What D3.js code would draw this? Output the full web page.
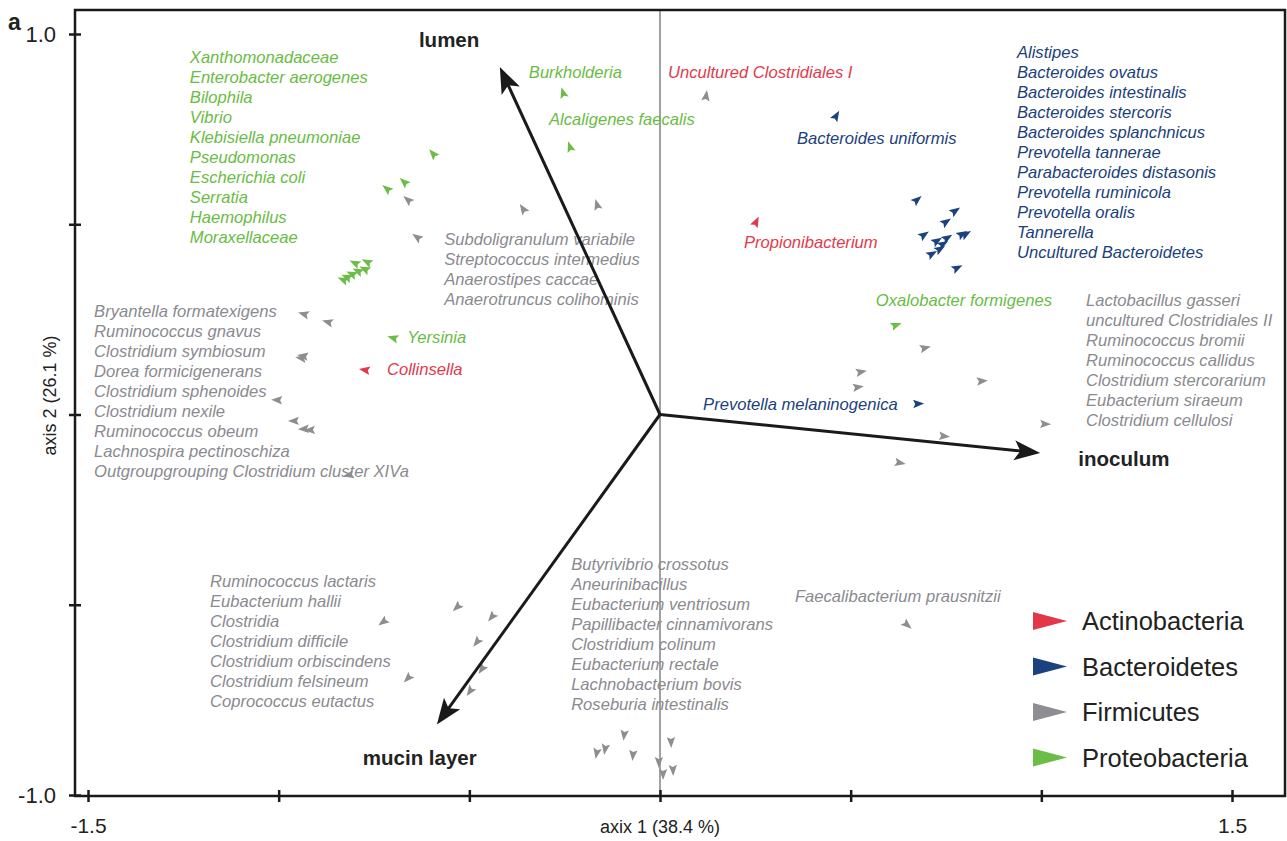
<!DOCTYPE html>
<html>
<head>
<meta charset="utf-8">
<script src="https://cdn.jsdelivr.net/npm/d3@7"></script>
<style>
  html, body { margin: 0; padding: 0; background: #fff; }
  svg { display: block; font-family: "Liberation Sans", Arial, Helvetica, sans-serif; }
</style>
</head>
<body>
<svg id="chart" width="1287" height="841"></svg>
<script>
// ---- Ordination scores (axis 1, axis 2) per phylum ----
const actinobacteria = [
  [-0.774, 0.117],  // Collinsella
  [0.252, 0.506]    // Propionibacterium
];
const bacteroidetes = [
  [0.462, 0.785], [0.674, 0.564], [0.774, 0.535], [0.750, 0.506],
  [0.692, 0.472], [0.726, 0.456], [0.753, 0.464], [0.742, 0.448],
  [0.734, 0.435], [0.713, 0.422], [0.792, 0.474], [0.802, 0.474],
  [0.779, 0.385], [0.677, 0.028]
];
const firmicutes = [
  [0.121, 0.837], [-0.661, 0.564], [-0.637, 0.466], [-0.359, 0.540], [-0.165, 0.551],
  [-0.934, 0.264], [-0.871, 0.243], [-0.941, 0.148], [-0.936, 0.154], [-1.004, 0.038],
  [-0.960, -0.017], [-0.934, -0.038], [-0.918, -0.041], [-0.816, -0.159],
  [0.695, 0.175], [0.527, 0.112], [0.519, 0.072], [0.844, 0.088], [1.010, -0.025],
  [0.745, -0.057], [0.629, -0.127], [0.648, -0.553],
  [-0.532, -0.506], [-0.441, -0.532], [-0.726, -0.545], [-0.480, -0.598],
  [-0.467, -0.669], [-0.661, -0.693], [-0.498, -0.727],
  [-0.094, -0.842], [-0.144, -0.879], [-0.166, -0.890], [-0.071, -0.895],
  [0.029, -0.861], [-0.003, -0.913], [0.008, -0.945], [0.034, -0.934]
];
const proteobacteria = [
  [-0.595, 0.685], [-0.671, 0.611], [-0.716, 0.593], [-0.800, 0.398],
  [-0.768, 0.401], [-0.774, 0.382], [-0.808, 0.369], [-0.821, 0.361],
  [-0.831, 0.354], [-0.792, 0.377],
  [-0.254, 0.845], [-0.236, 0.703], [-0.700, 0.201], [0.619, 0.235]
];

// ---- Environmental vectors ----
const habitats = ["lumen", "inoculum", "mucin layer"];
const habitatScores = [[-0.420, 0.913], [0.997, -0.101], [-0.585, -0.815]];

// ---- Legend ----
const phyla = ["Actinobacteria", "Bacteroidetes", "Firmicutes", "Proteobacteria"];

// ---- Axis ticks ----
const xTicks = [-1.5, -1.0, -0.5, 0, 0.5, 1.0, 1.5];
const yTicks = [-1.0, -0.5, 0, 0.5, 1.0];
const xTickLabels = ["-1.5", "", "", "", "", "", "1.5"];
const yTickLabels = ["-1.0", "", "", "", "1.0"];

// ---- Taxon name lists ----
const proteoNames = ["Xanthomonadaceae", "Enterobacter aerogenes", "Bilophila", "Vibrio",
  "Klebisiella pneumoniae", "Pseudomonas", "Escherichia coli", "Serratia", "Haemophilus", "Moraxellaceae"];
const firmiNamesUpper = ["Subdoligranulum variabile", "Streptococcus intermedius",
  "Anaerostipes caccae", "Anaerotruncus colihominis"];
const firmiNamesLeft = ["Bryantella formatexigens", "Ruminococcus gnavus", "Clostridium symbiosum",
  "Dorea formicigenerans", "Clostridium sphenoides", "Clostridium nexile", "Ruminococcus obeum",
  "Lachnospira pectinoschiza", "Outgroupgrouping Clostridium cluster XIVa"];
const firmiNamesLowerLeft = ["Ruminococcus lactaris", "Eubacterium hallii", "Clostridia",
  "Clostridium difficile", "Clostridium orbiscindens", "Clostridium felsineum", "Coprococcus eutactus"];
const firmiNamesLowerMid = ["Butyrivibrio crossotus", "Aneurinibacillus", "Eubacterium ventriosum",
  "Papillibacter cinnamivorans", "Clostridium colinum", "Eubacterium rectale",
  "Lachnobacterium bovis", "Roseburia intestinalis"];
const bacteroNames = ["Alistipes", "Bacteroides ovatus", "Bacteroides intestinalis",
  "Bacteroides stercoris", "Bacteroides splanchnicus", "Prevotella tannerae",
  "Parabacteroides distasonis", "Prevotella ruminicola", "Prevotella oralis",
  "Tannerella", "Uncultured Bacteroidetes"];
const firmiNamesRight = ["Lactobacillus gasseri", "uncultured Clostridiales II", "Ruminococcus bromii",
  "Ruminococcus callidus", "Clostridium stercorarium", "Eubacterium siraeum", "Clostridium cellulosi"];

// ---- Drawing ----
const colors = {
  Actinobacteria: "#e2384a",
  Bacteroidetes: "#1b427f",
  Firmicutes: "#8d8d92",
  Proteobacteria: "#6bbd45"
};
const textColors = {
  Actinobacteria: "#e23a4b",
  Bacteroidetes: "#1c3f7c",
  Firmicutes: "#8a8a8f",
  Proteobacteria: "#69bc44"
};

const svg = d3.select("#chart");
const x = d3.scaleLinear().domain([-1.5, 1.5]).range([88, 1232]);
const y = d3.scaleLinear().domain([-1, 1]).range([795, 34]);

const frame = { left: 75, right: 1285, top: 10, bottom: 796 };

// zero line on axis 1
svg.append("line")
  .attr("x1", x(0)).attr("x2", x(0))
  .attr("y1", frame.top).attr("y2", frame.bottom)
  .attr("stroke", "#444").attr("stroke-width", 1);

// text label groups (left x, first-line centre y in axis units)
const lineStep = 20;
function nameList(names, ax, ay, color) {
  const g = svg.append("g");
  g.selectAll("text").data(names).join("text")
    .attr("x", x(ax))
    .attr("y", (d, i) => y(ay) + i * lineStep)
    .attr("dominant-baseline", "central")
    .attr("font-size", 16.6)
    .attr("font-style", "italic")
    .attr("fill", color)
    .text(d => d);
}
nameList(proteoNames, -1.233, 0.938, textColors.Proteobacteria);
nameList(firmiNamesUpper, -0.566, 0.459, textColors.Firmicutes);
nameList(firmiNamesLeft, -1.484, 0.270, textColors.Firmicutes);
nameList(firmiNamesLowerLeft, -1.180, -0.440, textColors.Firmicutes);
nameList(firmiNamesLowerMid, -0.233, -0.395, textColors.Firmicutes);
nameList(bacteroNames, 0.936, 0.951, textColors.Bacteroidetes);
nameList(firmiNamesRight, 1.117, 0.299, textColors.Firmicutes);
nameList(["Burkholderia"], -0.344, 0.898, textColors.Proteobacteria);
nameList(["Alcaligenes faecalis"], -0.291, 0.775, textColors.Proteobacteria);
nameList(["Uncultured Clostridiales I"], 0.021, 0.898, textColors.Actinobacteria);
nameList(["Bacteroides uniformis"], 0.359, 0.725, textColors.Bacteroidetes);
nameList(["Propionibacterium"], 0.220, 0.451, textColors.Actinobacteria);
nameList(["Oxalobacter formigenes"], 0.566, 0.299, textColors.Proteobacteria);
nameList(["Yersinia"], -0.663, 0.202, textColors.Proteobacteria);
nameList(["Collinsella"], -0.716, 0.118, textColors.Actinobacteria);
nameList(["Prevotella melaninogenica"], 0.113, 0.026, textColors.Bacteroidetes);
nameList(["Faecalibacterium prausnitzii"], 0.354, -0.479, textColors.Firmicutes);

// taxon markers: small arrowheads pointing away from the origin
const markerPath = "M6,0 L-5,-4.2 L-3,0 L-5,4.2 Z";
function markers(points, color) {
  svg.append("g").selectAll("path").data(points).join("path")
    .attr("d", markerPath)
    .attr("fill", color)
    .attr("transform", d => {
      const ang = Math.atan2(y(d[1]) - y(0), x(d[0]) - x(0)) * 180 / Math.PI;
      return `translate(${x(d[0])},${y(d[1])}) rotate(${ang})`;
    });
}
markers(firmicutes, colors.Firmicutes);
markers(proteobacteria, colors.Proteobacteria);
markers(bacteroidetes, colors.Bacteroidetes);
markers(actinobacteria, colors.Actinobacteria);

// habitat vectors
const headPath = "M0,0 L-26,-10 L-20,0 L-26,10 Z";
const vec = svg.append("g");
habitatScores.forEach((s, i) => {
  const x0 = x(0), y0 = y(0), x1 = x(s[0]), y1 = y(s[1]);
  const ang = Math.atan2(y1 - y0, x1 - x0);
  vec.append("line")
    .attr("x1", x0).attr("y1", y0)
    .attr("x2", x1 - Math.cos(ang) * 18).attr("y2", y1 - Math.sin(ang) * 18)
    .attr("stroke", "#1a1a1a").attr("stroke-width", 3);
  vec.append("path")
    .attr("d", headPath)
    .attr("fill", "#1a1a1a")
    .attr("transform", `translate(${x1},${y1}) rotate(${ang * 180 / Math.PI})`);
});
const habitatLabelPos = [[-0.553, 0.985, "middle"], [1.097, -0.115, "start"], [-0.630, -0.902, "middle"]];
vec.selectAll("text.hab").data(habitats).join("text")
  .attr("class", "hab")
  .attr("x", (d, i) => x(habitatLabelPos[i][0]))
  .attr("y", (d, i) => y(habitatLabelPos[i][1]))
  .attr("text-anchor", (d, i) => habitatLabelPos[i][2])
  .attr("dominant-baseline", "central")
  .attr("font-size", 20.5)
  .attr("font-weight", "bold")
  .attr("fill", "#222")
  .text(d => d);

// frame
svg.append("rect")
  .attr("x", frame.left).attr("y", frame.top)
  .attr("width", frame.right - frame.left).attr("height", frame.bottom - frame.top)
  .attr("fill", "none").attr("stroke", "#1a1a1a").attr("stroke-width", 2.5);

// axes
const xAxis = svg.append("g")
  .attr("transform", `translate(0,${frame.bottom})`)
  .call(d3.axisBottom(x).tickValues(xTicks).tickSize(6).tickPadding(16)
    .tickFormat((d, i) => xTickLabels[i]));
xAxis.select(".domain").remove();
xAxis.selectAll(".tick line").attr("y1", -6).attr("y2", 6)
  .attr("stroke", "#1a1a1a").attr("stroke-width", 2.5);
xAxis.selectAll(".tick text").attr("font-size", 21).attr("fill", "#222")
  .attr("font-family", "Liberation Sans, Arial, sans-serif");

const yAxis = svg.append("g")
  .attr("transform", `translate(${frame.left},0)`)
  .call(d3.axisLeft(y).tickValues(yTicks).tickSize(6).tickPadding(13)
    .tickFormat((d, i) => yTickLabels[i]));
yAxis.select(".domain").remove();
yAxis.selectAll(".tick line").attr("x1", -6).attr("x2", 6)
  .attr("stroke", "#1a1a1a").attr("stroke-width", 2.5);
yAxis.selectAll(".tick text").attr("font-size", 22).attr("fill", "#222")
  .attr("font-family", "Liberation Sans, Arial, sans-serif");

// axis titles
svg.append("text")
  .attr("x", x(0)).attr("y", 827)
  .attr("text-anchor", "middle").attr("dominant-baseline", "central")
  .attr("font-size", 18).attr("fill", "#222")
  .text("axix 1 (38.4 %)");
svg.append("text")
  .attr("transform", `translate(50,${y(0.05)}) rotate(-90)`)
  .attr("text-anchor", "middle").attr("dominant-baseline", "central")
  .attr("font-size", 18).attr("fill", "#222")
  .text("axis 2 (26.1 %)");

// panel letter
svg.append("text")
  .attr("x", 8).attr("y", 22)
  .attr("dominant-baseline", "central")
  .attr("font-size", 23).attr("font-weight", "bold").attr("fill", "#222")
  .text("a");

// legend
const legend = svg.append("g").attr("transform", "translate(1033,621)");
const legendRows = legend.selectAll("g").data(phyla).join("g")
  .attr("transform", (d, i) => `translate(0,${i * 45.5})`);
legendRows.append("path")
  .attr("d", "M0,-9 L34,0 L0,9 Z")
  .attr("fill", d => colors[d]);
legendRows.append("text")
  .attr("x", 49).attr("y", 0)
  .attr("dominant-baseline", "central")
  .attr("font-size", 25.5).attr("fill", "#222")
  .text(d => d);
</script>
</body>
</html>
